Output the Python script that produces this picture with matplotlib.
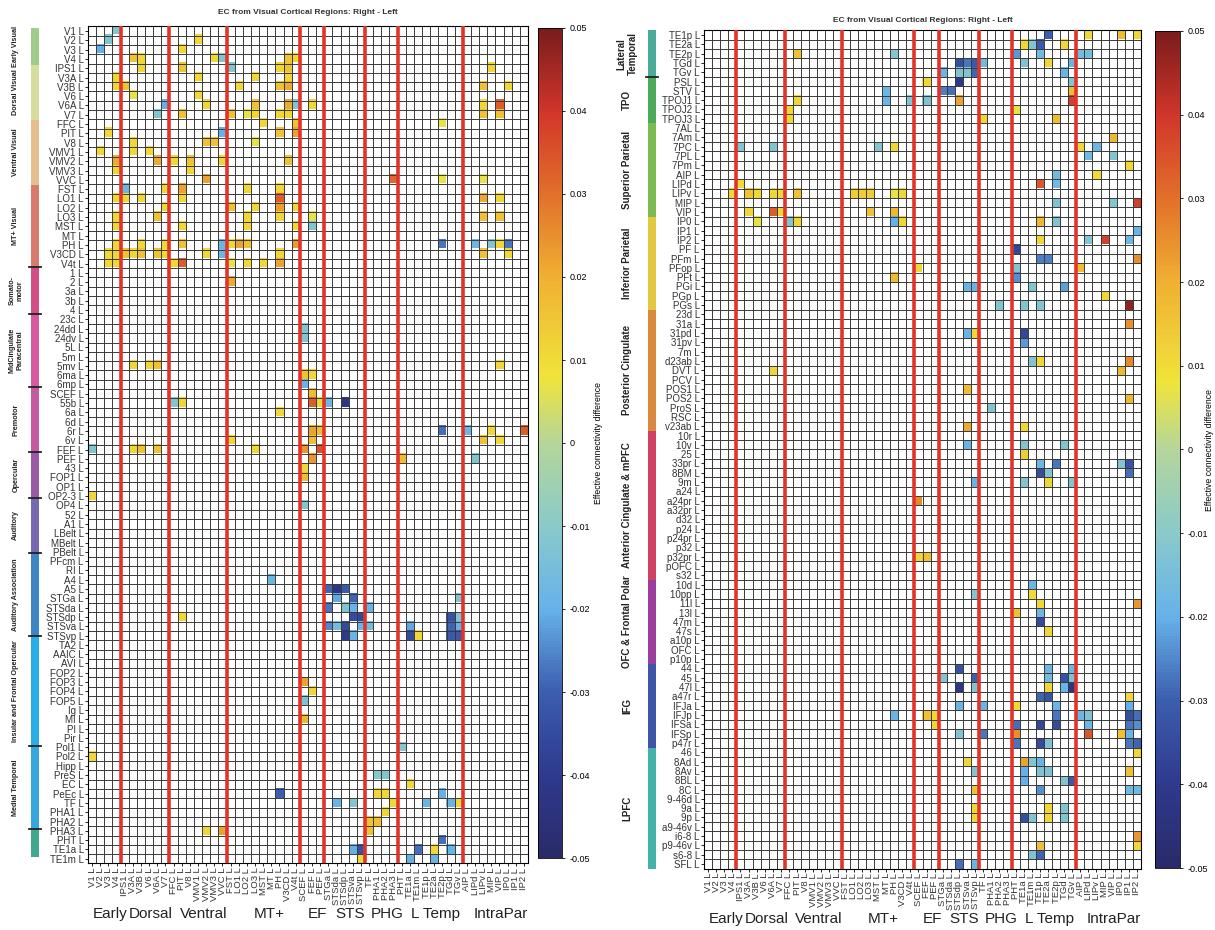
import numpy as np
import matplotlib
matplotlib.use('Agg')
import matplotlib.pyplot as plt
from matplotlib.colors import LinearSegmentedColormap
from matplotlib.patches import Rectangle

plt.rcParams['font.family'] = ['Liberation Sans', 'DejaVu Sans']

# columns: visual cortical source regions
col_names = ['V1', 'V2', 'V3', 'V4', 'IPS1', 'V3A', 'V3B', 'V6', 'V6A', 'V7',
             'FFC', 'PIT', 'V8', 'VMV1', 'VMV2', 'VMV3', 'VVC',
             'FST', 'LO1', 'LO2', 'LO3', 'MST', 'MT', 'PH', 'V3CD', 'V4t',
             'SCEF', 'FEF', 'PEF', 'STGa', 'STSda', 'STSdp', 'STSva', 'STSvp',
             'TF', 'PHA1', 'PHA2', 'PHA3',
             'PHT', 'TE1a', 'TE1m', 'TE1p', 'TE2a', 'TE2p', 'TGd', 'TGv',
             'AIP', 'LIPd', 'LIPv', 'MIP', 'VIP', 'IP0', 'IP1', 'IP2']
col_groups = ['Early', 'Dorsal', 'Ventral', 'MT+', 'EF', 'STS', 'PHG', 'L Temp', 'IntraPar']
col_group_sizes = [4, 6, 7, 9, 3, 5, 4, 8, 8]

# left panel rows
left_rows = ['V1', 'V2', 'V3', 'V4', 'IPS1', 'V3A', 'V3B', 'V6', 'V6A', 'V7',
             'FFC', 'PIT', 'V8', 'VMV1', 'VMV2', 'VMV3', 'VVC',
             'FST', 'LO1', 'LO2', 'LO3', 'MST', 'MT', 'PH', 'V3CD', 'V4t',
             '1', '2', '3a', '3b', '4',
             '23c', '24dd', '24dv', '5L', '5m', '5mv', '6ma', '6mp',
             'SCEF', '55b', '6a', '6d', '6r', '6v', 'FEF', 'PEF',
             '43', 'FOP1', 'OP1', 'OP2-3', 'OP4',
             '52', 'A1', 'LBelt', 'MBelt', 'PBelt',
             'PFcm', 'RI', 'A4', 'A5', 'STGa', 'STSda', 'STSdp', 'STSva', 'STSvp',
             'TA2', 'AAIC', 'AVI', 'FOP2', 'FOP3', 'FOP4', 'FOP5', 'Ig', 'MI', 'PI',
             'Pir', 'Pol1', 'Pol2',
             'Hipp', 'PreS', 'EC', 'PeEc', 'TF', 'PHA1', 'PHA2', 'PHA3',
             'PHT', 'TE1a', 'TE1m']
left_groups = ['Early Visual', 'Dorsal Visual', 'Ventral Visual', 'MT+ Visual',
               'Somato-\nmotor', 'MidCingulate\nParacentral', 'Premotor', 'Opercular',
               'Auditory', 'Auditory Association', 'Insular and Frontal Opercular',
               'Medial Temporal', '']
left_group_sizes = [4, 6, 7, 9, 5, 8, 7, 5, 6, 9, 12, 9, 3]
left_group_colors = ['#9fcb8c', '#d7dd9f', '#e6bf8f', '#d87a6c', '#d24e87', '#d75aa0',
                     '#c65aa0', '#9b5aa6', '#7868b0', '#3d86c6', '#2aaee6', '#38a6de',
                     '#3fa88f']

# right panel rows
right_rows = ['TE1p', 'TE2a', 'TE2p', 'TGd', 'TGv',
              'PSL', 'STV', 'TPOJ1', 'TPOJ2', 'TPOJ3',
              '7AL', '7Am', '7PC', '7PL', '7Pm', 'AIP', 'LIPd', 'LIPv', 'MIP', 'VIP',
              'IP0', 'IP1', 'IP2', 'PF', 'PFm', 'PFop', 'PFt', 'PGi', 'PGp', 'PGs',
              '23d', '31a', '31pd', '31pv', '7m', 'd23ab', 'DVT', 'PCV', 'POS1', 'POS2',
              'ProS', 'RSC', 'v23ab',
              '10r', '10v', '25', '33pr', '8BM', '9m', 'a24', 'a24pr', 'a32pr', 'd32',
              'p24', 'p24pr', 'p32', 'p32pr', 'pOFC',
              's32', '10d', '10pp', '11l', '13l', '47m', '47s', 'a10p', 'OFC', 'p10p',
              '44', '45', '47l', 'a47r', 'IFJa', 'IFJp', 'IFSa', 'IFSp', 'p47r',
              '46', '8Ad', '8Av', '8BL', '8C', '9-46d', '9a', '9p', 'a9-46v', 'i6-8',
              'p9-46v', 's6-8', 'SFL']
right_groups = ['Lateral\nTemporal', 'TPO', 'Superior Parietal', 'Inferior Parietal',
                'Posterior Cingulate', 'Anterior Cingulate & mPFC', 'OFC & Frontal Polar',
                'IFG', 'LPFC']
right_group_sizes = [5, 5, 10, 10, 13, 16, 9, 9, 13]
right_group_colors = ['#4bab98', '#4caa5a', '#7dba52', '#e1c83e', '#d98a3e', '#cf4262',
                      '#9c3f9c', '#3f56a6', '#44b2a8']

# significant cells: (target row, source column, EC difference)
left_cells = [
    ('V1', 'V4', -0.012),
    ('V2', 'V3', -0.012), ('V2', 'VMV1', 0.011),
    ('V3', 'V2', -0.020), ('V3', 'PIT', 0.011),
    ('V4', 'V3A', 0.016), ('V4', 'V3B', 0.011), ('V4', 'VMV3', 0.011), ('V4', 'VVC', -0.012),
    ('V4', 'V3CD', 0.015), ('V4', 'V4t', 0.011),
    ('IPS1', 'V3B', 0.011), ('IPS1', 'PIT', 0.015), ('IPS1', 'FST', -0.012), ('IPS1', 'PH', 0.011),
    ('IPS1', 'V3CD', 0.016), ('IPS1', 'MIP', 0.011),
    ('V3A', 'V4', 0.011), ('V3A', 'VMV1', 0.011), ('V3A', 'LO3', 0.011), ('V3A', 'V3CD', 0.011),
    ('V3B', 'V4', 0.011), ('V3B', 'IPS1', 0.016), ('V3B', 'LO1', 0.011), ('V3B', 'PH', 0.016),
    ('V3B', 'V3CD', 0.021), ('V3B', 'LIPv', 0.016), ('V3B', 'IP0', 0.011),
    ('V6', 'V3A', 0.007), ('V6', 'VMV1', 0.011),
    ('V6A', 'V7', -0.020), ('V6A', 'VMV2', 0.011), ('V6A', 'LO3', 0.016), ('V6A', 'V3CD', 0.021),
    ('V6A', 'V4t', -0.012), ('V6A', 'FEF', 0.011), ('V6A', 'LIPv', 0.011), ('V6A', 'VIP', 0.033),
    ('V7', 'V6A', -0.012), ('V7', 'PIT', 0.016), ('V7', 'FST', 0.016), ('V7', 'LO2', 0.007),
    ('V7', 'LO3', 0.011), ('V7', 'PH', 0.011), ('V7', 'V3CD', 0.011), ('V7', 'LIPv', 0.016),
    ('V7', 'VIP', 0.016),
    ('FFC', 'MST', 0.011), ('FFC', 'V4t', 0.016), ('FFC', 'TE2p', 0.007),
    ('PIT', 'V3', 0.011), ('PIT', 'VVC', -0.020), ('PIT', 'PH', 0.016), ('PIT', 'V4t', 0.022),
    ('V8', 'V3A', 0.011), ('V8', 'VMV2', 0.016), ('V8', 'VMV3', 0.016), ('V8', 'LO3', 0.007),
    ('VMV1', 'V2', 0.011), ('VMV1', 'V3A', 0.011), ('VMV1', 'V6', 0.011),
    ('VMV2', 'V4', 0.021), ('VMV2', 'V6A', 0.021), ('VMV2', 'FFC', 0.011), ('VMV2', 'V8', 0.016),
    ('VMV2', 'VVC', 0.011), ('VMV2', 'V3CD', 0.016),
    ('VMV3', 'V4', 0.011), ('VMV3', 'V8', 0.011),
    ('VVC', 'VMV2', 0.022), ('VVC', 'PHA3', 0.031), ('VVC', 'TE2p', 0.007), ('VVC', 'LIPv', 0.007),
    ('FST', 'IPS1', -0.018), ('FST', 'V7', 0.011), ('FST', 'PIT', 0.022), ('FST', 'LO2', 0.011),
    ('FST', 'PH', 0.011),
    ('LO1', 'V4', 0.011), ('LO1', 'IPS1', 0.011), ('LO1', 'V3B', 0.011), ('LO1', 'PIT', 0.011),
    ('LO1', 'PH', 0.033), ('LO1', 'LIPv', 0.021), ('LO1', 'VIP', 0.011),
    ('LO2', 'V7', 0.011), ('LO2', 'FST', 0.016), ('LO2', 'LO3', 0.011), ('LO2', 'PH', 0.023),
    ('LO2', 'V4t', 0.011),
    ('LO3', 'V4', 0.011), ('LO3', 'V6A', 0.016), ('LO3', 'LO2', 0.011), ('LO3', 'PH', 0.011),
    ('LO3', 'FEF', 0.007), ('LO3', 'LIPv', 0.016), ('LO3', 'VIP', 0.016),
    ('MST', 'V4', 0.011), ('MST', 'PIT', 0.011), ('MST', 'LO2', 0.011), ('MST', 'V4t', 0.011),
    ('MST', 'FEF', -0.012),
    ('PH', 'V4', 0.011), ('PH', 'V3B', 0.011), ('PH', 'V7', 0.011), ('PH', 'PIT', 0.016),
    ('PH', 'VVC', -0.018), ('PH', 'FST', 0.011), ('PH', 'LO1', 0.022), ('PH', 'LO2', 0.016),
    ('PH', 'V4t', 0.023), ('PH', 'TE2p', -0.027), ('PH', 'LIPd', -0.018), ('PH', 'MIP', -0.012),
    ('PH', 'VIP', 0.011), ('PH', 'IP0', -0.027),
    ('V3CD', 'V3', 0.011), ('V3CD', 'V4', 0.011), ('V3CD', 'IPS1', 0.016), ('V3CD', 'V3A', 0.011),
    ('V3CD', 'V3B', 0.016), ('V3CD', 'V6A', 0.016), ('V3CD', 'V7', 0.011), ('V3CD', 'VMV2', 0.011),
    ('V3CD', 'VVC', -0.018), ('V3CD', 'PH', 0.011), ('V3CD', 'LIPv', 0.016), ('V3CD', 'IP0', 0.011),
    ('V4t', 'V3', 0.011), ('V4t', 'V4', 0.011), ('V4t', 'FFC', 0.011), ('V4t', 'PIT', 0.033),
    ('V4t', 'FST', 0.007), ('V4t', 'LO2', 0.011), ('V4t', 'MST', 0.011), ('V4t', 'PH', 0.022),
    ('2', 'FST', 0.021),
    ('24dd', 'SCEF', -0.012), ('24dv', 'SCEF', -0.012),
    ('5mv', 'V3A', 0.011), ('5mv', 'V6', 0.011), ('5mv', 'V6A', 0.016), ('5mv', 'VIP', 0.011),
    ('6ma', 'SCEF', 0.016), ('6ma', 'FEF', 0.011),
    ('6mp', 'SCEF', -0.019),
    ('SCEF', 'FEF', 0.017),
    ('55b', 'FFC', -0.012), ('55b', 'PIT', 0.011), ('55b', 'FEF', 0.033), ('55b', 'PEF', 0.011),
    ('55b', 'STGa', -0.018), ('55b', 'STSdp', -0.042),
    ('6a', 'PH', 0.011),
    ('6r', 'FEF', 0.022), ('6r', 'PEF', 0.017), ('6r', 'TE2p', -0.028), ('6r', 'AIP', -0.018),
    ('6r', 'MIP', 0.011), ('6r', 'IP2', 0.033),
    ('6v', 'FST', 0.011), ('6v', 'FEF', 0.017), ('6v', 'LIPv', 0.016), ('6v', 'VIP', 0.011),
    ('FEF', 'V1', -0.012), ('FEF', 'V3A', 0.011), ('FEF', 'V3B', 0.016), ('FEF', 'V6A', 0.016),
    ('FEF', 'LO3', 0.011), ('FEF', 'SCEF', 0.024), ('FEF', 'PEF', 0.035),
    ('PEF', 'FEF', 0.024), ('PEF', 'PHT', 0.017), ('PEF', 'LIPd', -0.012),
    ('43', 'SCEF', 0.011), ('FOP1', 'SCEF', 0.017), ('OP2-3', 'V1', 0.011), ('OP4', 'SCEF', -0.012),
    ('A4', 'MT', -0.018),
    ('A5', 'STGa', -0.029), ('A5', 'STSda', -0.042), ('A5', 'STSdp', -0.031),
    ('STGa', 'STSda', -0.021), ('STGa', 'STSva', -0.029), ('STGa', 'TGv', -0.012),
    ('STSda', 'STGa', -0.027), ('STSda', 'STSdp', -0.012), ('STSda', 'STSva', -0.019),
    ('STSda', 'TF', -0.019),
    ('STSdp', 'PIT', 0.011), ('STSdp', 'STSva', -0.035), ('STSdp', 'STSvp', -0.036),
    ('STSdp', 'TGd', -0.033), ('STSdp', 'TGv', -0.012),
    ('STSva', 'STGa', -0.025), ('STSva', 'STSda', -0.016), ('STSva', 'STSdp', -0.035),
    ('STSva', 'STSvp', -0.019), ('STSva', 'TF', -0.016), ('STSva', 'TE1a', -0.021),
    ('STSva', 'TGd', -0.029), ('STSva', 'TGv', -0.020),
    ('STSvp', 'STSdp', -0.040), ('STSvp', 'STSva', -0.019), ('STSvp', 'TE1a', -0.035),
    ('STSvp', 'TE1m', 0.011), ('STSvp', 'TGd', -0.031), ('STSvp', 'TGv', -0.031),
    ('FOP3', 'SCEF', 0.022), ('FOP4', 'FEF', 0.011), ('FOP5', 'SCEF', -0.013),
    ('MI', 'SCEF', 0.018), ('Pol1', 'PHT', -0.011), ('Pol2', 'V1', 0.011),
    ('PreS', 'PHA1', -0.011), ('PreS', 'PHA2', -0.012),
    ('EC', 'TE1a', 0.011),
    ('PeEc', 'PH', -0.030), ('PeEc', 'PHA1', 0.011), ('PeEc', 'PHA2', 0.011), ('PeEc', 'TE2p', -0.020),
    ('TF', 'STSda', -0.019), ('TF', 'STSva', -0.012), ('TF', 'PHA3', 0.011), ('TF', 'TE1p', -0.019),
    ('TF', 'TGd', -0.019), ('TF', 'TGv', 0.011),
    ('PHA1', 'PHA2', 0.011),
    ('PHA2', 'TF', 0.016), ('PHA2', 'PHA1', 0.016),
    ('PHA3', 'VMV2', 0.011), ('PHA3', 'VVC', 0.022), ('PHA3', 'TF', 0.016),
    ('PHT', 'TE2p', -0.028),
    ('TE1a', 'STSva', -0.020), ('TE1a', 'STSvp', -0.033), ('TE1a', 'TE1m', -0.028),
    ('TE1a', 'TE2a', 0.011), ('TE1a', 'TGd', -0.019),
    ('TE1m', 'STSvp', 0.011), ('TE1m', 'TE1a', -0.020), ('TE1m', 'TE2a', -0.019),
]

right_cells = [
    ('TE1p', 'TE2a', -0.030), ('TE1p', 'LIPd', 0.011), ('TE1p', 'IP0', 0.017), ('TE1p', 'IP2', 0.011),
    ('TE2a', 'TE1a', 0.011), ('TE2a', 'TE1m', -0.012), ('TE2a', 'TE1p', -0.031), ('TE2a', 'TGd', 0.011),
    ('TE2p', 'PIT', 0.016), ('TE2p', 'PH', -0.012), ('TE2p', 'PHT', -0.023), ('TE2p', 'TE1p', -0.017),
    ('TE2p', 'AIP', -0.016), ('TE2p', 'LIPd', -0.016),
    ('TGd', 'STSdp', -0.034), ('TGd', 'STSva', -0.027), ('TGd', 'STSvp', -0.031), ('TGd', 'TF', -0.017),
    ('TGd', 'TE1a', -0.013), ('TGd', 'TE2a', 0.011), ('TGd', 'TGv', -0.019),
    ('TGv', 'STGa', -0.019), ('TGv', 'STSdp', -0.012), ('TGv', 'STSva', -0.012), ('TGv', 'STSvp', -0.029),
    ('TGv', 'TGd', -0.019),
    ('PSL', 'FEF', 0.011), ('PSL', 'STSdp', -0.041), ('PSL', 'TGv', -0.012),
    ('STV', 'MT', -0.018), ('STV', 'STGa', -0.026), ('STV', 'STSda', -0.028), ('STV', 'TGv', 0.017),
    ('TPOJ1', 'PIT', 0.011), ('TPOJ1', 'MT', -0.018), ('TPOJ1', 'V4t', -0.012), ('TPOJ1', 'FEF', -0.013),
    ('TPOJ1', 'STSdp', 0.022), ('TPOJ1', 'TGv', 0.038),
    ('TPOJ2', 'FFC', 0.011), ('TPOJ2', 'PHT', 0.007),
    ('TPOJ3', 'FFC', 0.011), ('TPOJ3', 'TF', 0.011), ('TPOJ3', 'TE2p', 0.017),
    ('7Am', 'VIP', 0.018),
    ('7PC', 'IPS1', -0.012), ('7PC', 'V6A', -0.012), ('7PC', 'MST', -0.012), ('7PC', 'PH', 0.011),
    ('7PC', 'AIP', 0.011), ('7PC', 'LIPv', -0.018),
    ('7PL', 'LIPd', -0.017), ('7PL', 'VIP', -0.012),
    ('7Pm', 'IP1', 0.011),
    ('AIP', 'TE2p', -0.017), ('AIP', 'LIPv', 0.010),
    ('LIPd', 'IPS1', 0.010), ('LIPd', 'TE1p', 0.034), ('LIPd', 'TE2p', -0.017),
    ('LIPv', 'V4', 0.011), ('LIPv', 'V3A', 0.016), ('LIPv', 'V3B', 0.011), ('LIPv', 'V6A', 0.011),
    ('LIPv', 'V7', 0.011), ('LIPv', 'PIT', 0.016), ('LIPv', 'LO1', 0.013), ('LIPv', 'LO2', 0.013),
    ('LIPv', 'LO3', 0.013), ('LIPv', 'PH', 0.007), ('LIPv', 'V3CD', 0.011),
    ('MIP', 'TE2p', -0.013), ('MIP', 'VIP', -0.012), ('MIP', 'IP2', 0.038),
    ('VIP', 'V3A', 0.011), ('VIP', 'V6A', 0.033), ('VIP', 'V7', 0.011), ('VIP', 'LO3', 0.016),
    ('VIP', 'PH', 0.018),
    ('IP0', 'V3B', 0.007), ('IP0', 'FFC', -0.012), ('IP0', 'PIT', 0.011), ('IP0', 'PH', -0.020),
    ('IP0', 'V3CD', 0.011), ('IP0', 'TE1p', 0.018), ('IP0', 'TE2p', -0.012),
    ('IP1', 'IP2', -0.019),
    ('IP2', 'TE1p', 0.011), ('IP2', 'LIPd', -0.012), ('IP2', 'MIP', 0.038), ('IP2', 'IP1', -0.018),
    ('PF', 'PHT', -0.036),
    ('PFm', 'TE1p', -0.026), ('PFm', 'TE2a', -0.026), ('PFm', 'IP2', 0.025),
    ('PFop', 'SCEF', 0.011), ('PFop', 'PHT', -0.012), ('PFop', 'AIP', 0.017),
    ('PFt', 'PH', 0.017), ('PFt', 'PHT', -0.024),
    ('PGi', 'STSva', -0.019), ('PGi', 'STSvp', -0.019), ('PGi', 'TE1m', -0.012), ('PGi', 'TGd', -0.022),
    ('PGp', 'MIP', 0.011),
    ('PGs', 'PHA2', -0.012), ('PGs', 'TE1a', -0.012), ('PGs', 'TE1p', -0.012), ('PGs', 'IP1', 0.047),
    ('31a', 'IP1', 0.025),
    ('31pd', 'STSva', -0.019), ('31pd', 'STSvp', 0.011), ('31pd', 'TE1a', -0.036),
    ('31pv', 'TE1a', -0.023),
    ('d23ab', 'TE1m', -0.012), ('d23ab', 'TE1p', 0.011), ('d23ab', 'IP1', 0.026),
    ('DVT', 'V6A', 0.011), ('DVT', 'IP0', 0.018),
    ('POS1', 'STSva', 0.017), ('POS2', 'IP1', 0.018),
    ('ProS', 'PHA1', -0.012),
    ('v23ab', 'STSva', 0.021), ('v23ab', 'TE1a', 0.011),
    ('10v', 'STSva', -0.019), ('10v', 'TE1a', -0.012), ('10v', 'TGd', -0.012),
    ('25', 'TE1a', 0.013),
    ('33pr', 'TE1p', -0.018), ('33pr', 'TE2p', -0.027), ('33pr', 'IP0', -0.012), ('33pr', 'IP1', -0.033),
    ('8BM', 'TE1p', -0.034), ('8BM', 'TE2a', -0.012), ('8BM', 'IP1', -0.028),
    ('9m', 'STSvp', -0.019), ('9m', 'TE1a', -0.012), ('9m', 'TE2a', 0.011), ('9m', 'TGv', -0.012),
    ('a24pr', 'SCEF', 0.026),
    ('p32pr', 'SCEF', 0.011), ('p32pr', 'FEF', 0.016),
    ('10d', 'TE1m', -0.018),
    ('10pp', 'STSvp', -0.012), ('10pp', 'TE1m', 0.010),
    ('11l', 'TE1p', 0.011), ('11l', 'IP2', 0.024),
    ('13l', 'PHT', 0.016), ('13l', 'TE1p', -0.018),
    ('47m', 'TE1p', -0.035),
    ('47s', 'TE2a', 0.011),
    ('44', 'STSdp', -0.033), ('44', 'TE2a', -0.018), ('44', 'TGv', -0.018),
    ('45', 'STGa', -0.012), ('45', 'STSvp', -0.030), ('45', 'TE2a', -0.016), ('45', 'TGd', -0.033),
    ('45', 'TGv', -0.013),
    ('47l', 'STSdp', -0.042), ('47l', 'STSvp', -0.012), ('47l', 'TE2a', 0.011), ('47l', 'TGd', -0.019),
    ('47l', 'TGv', -0.042),
    ('a47r', 'TE1p', -0.029), ('a47r', 'TE2a', -0.033), ('a47r', 'IP1', 0.011),
    ('IFJa', 'STSdp', -0.019), ('IFJa', 'TF', -0.019), ('IFJa', 'PHT', 0.011), ('IFJa', 'TE2p', -0.019),
    ('IFJa', 'IP1', -0.020),
    ('IFJp', 'PH', -0.019), ('IFJp', 'FEF', 0.016), ('IFJp', 'PEF', 0.011), ('IFJp', 'TE2p', -0.027),
    ('IFJp', 'AIP', -0.018), ('IFJp', 'LIPd', -0.013), ('IFJp', 'IP1', -0.034), ('IFJp', 'IP2', -0.028),
    ('IFSa', 'PEF', 0.011), ('IFSa', 'PHT', -0.028), ('IFSa', 'TE1p', -0.036), ('IFSa', 'TE2p', -0.035),
    ('IFSa', 'LIPd', -0.018), ('IFSa', 'IP1', -0.027), ('IFSa', 'IP2', -0.024),
    ('IFSp', 'STSdp', -0.013), ('IFSp', 'TF', -0.027), ('IFSp', 'PHT', 0.025), ('IFSp', 'LIPd', 0.034),
    ('IFSp', 'IP0', 0.016), ('IFSp', 'IP1', -0.019),
    ('p47r', 'PHT', -0.027), ('p47r', 'TE1p', -0.035), ('p47r', 'TE2a', -0.013), ('p47r', 'IP1', -0.027),
    ('p47r', 'IP2', -0.029),
    ('46', 'IP2', 0.011),
    ('8Ad', 'STSva', 0.011), ('8Ad', 'TE1a', 0.022), ('8Ad', 'TE1m', -0.012), ('8Ad', 'TE1p', -0.019),
    ('8Av', 'STSvp', -0.012), ('8Av', 'TE1a', -0.020), ('8Av', 'TE1p', -0.013), ('8Av', 'TE2a', -0.013),
    ('8Av', 'IP1', 0.016),
    ('8BL', 'TE1a', -0.020), ('8BL', 'TGd', -0.012), ('8BL', 'TGv', -0.031),
    ('8C', 'STSvp', 0.016), ('8C', 'TE1p', -0.024), ('8C', 'IP1', -0.017), ('8C', 'IP2', -0.017),
    ('9a', 'STSvp', 0.011), ('9a', 'TE2a', 0.011), ('9a', 'TGd', -0.012),
    ('9p', 'STSvp', 0.011), ('9p', 'TE1a', -0.034), ('9p', 'TE1m', -0.012), ('9p', 'TE2a', 0.011),
    ('9p', 'TGd', -0.012),
    ('i6-8', 'IP2', 0.024),
    ('p9-46v', 'TE1p', 0.017), ('p9-46v', 'IP2', 0.011),
    ('s6-8', 'TE1m', -0.013), ('s6-8', 'TE1p', -0.029),
    ('SFL', 'STSdp', -0.028), ('SFL', 'STSvp', -0.019),
]

# colour scale of the reference
cmap = LinearSegmentedColormap.from_list('ecdiff', [
    (0.00, '#2a2a6a'), (0.10, '#2e3a8e'), (0.20, '#3c5eae'), (0.30, '#66b2ea'),
    (0.40, '#8acaca'), (0.50, '#b4d69a'), (0.58, '#f0e43a'), (0.70, '#f0b032'),
    (0.80, '#e2702a'), (0.90, '#d2362a'), (1.00, '#7a1c1c')])
cmap.set_bad('white')

W, H = 1215, 930
fig = plt.figure(figsize=(W / 100, H / 100), dpi=100)


def box(x0, y0, x1, y1):
    return [x0 / W, 1 - y1 / H, (x1 - x0) / W, (y1 - y0) / H]


def draw_panel(mat_box, bar_box, cb_box, rows, cells, groups, sizes, colors,
               grp_font, grp_x, tick_groups, title_y, cb_lab_x):
    data = np.full((len(rows), len(col_names)), np.nan)
    for r, c, v in cells:
        data[rows.index(r), col_names.index(c)] = v

    ax = fig.add_axes(box(*mat_box))
    im = ax.imshow(np.ma.masked_invalid(data), cmap=cmap, vmin=-0.05, vmax=0.05,
                   aspect='auto', interpolation='nearest')
    ax.set_xticks(np.arange(len(col_names)) - 0.5, minor=True)
    ax.set_yticks(np.arange(len(rows)) - 0.5, minor=True)
    ax.grid(which='minor', color='#3a3a3a', lw=0.7)
    ax.tick_params(which='minor', length=0)
    ax.set_xticks(np.arange(len(col_names)))
    ax.set_xticklabels([n + ' L' for n in col_names], rotation=90, fontsize=6.8, color='#333333')
    ax.set_yticks(np.arange(len(rows)))
    ax.set_yticklabels([n + ' L' for n in rows], fontsize=7, color='#333333')
    ax.tick_params(which='major', length=2, width=0.6, pad=1)
    for s in ax.spines.values():
        s.set_linewidth(0.8)
    for b in np.cumsum(col_group_sizes)[:-1]:
        ax.axvline(b - 0.5, color='#e0342a', lw=2.6, zorder=4)
    ax.set_title('EC from Visual Cortical Regions: Right - Left', fontsize=6,
                 fontweight='bold', color='#333333', pad=title_y)

    # group names under the columns
    start = 0
    for g, n in zip(col_groups, col_group_sizes):
        ax.text(start + n / 2.0 + 0.2, -0.06, g, transform=ax.get_xaxis_transform(),
                ha='center', va='center', fontsize=11, color='#222222')
        start += n

    # coloured group bar on the left
    bax = fig.add_axes(box(*bar_box))
    bax.set_xlim(0, 1)
    bax.set_ylim(len(rows), 0)
    bax.axis('off')
    start = 0
    for g, n, col in zip(groups, sizes, colors):
        bax.add_patch(Rectangle((0, start), 1, n, color=col, lw=0))
        bax.text(grp_x, start + n / 2.0, g, rotation=90, ha='center', va='center',
                 fontsize=grp_font, fontweight='bold', color='#222222',
                 multialignment='center', clip_on=False)
        start += n
    for k in tick_groups:
        y = sum(sizes[:k])
        bax.plot([-0.3, 1.3], [y, y], color='#222222', lw=1.3, clip_on=False)

    cax = fig.add_axes(box(*cb_box))
    cb = fig.colorbar(im, cax=cax, ticks=np.arange(-0.05, 0.051, 0.01))
    cb.ax.set_yticklabels(['-0.05', '-0.04', '-0.03', '-0.02', '-0.01', '0',
                           '0.01', '0.02', '0.03', '0.04', '0.05'])
    cb.ax.tick_params(labelsize=6.5, length=2, width=0.6)
    cb.outline.set_linewidth(0.6)
    cb.set_label('Effective connectivity difference', fontsize=6.2)
    cb.ax.yaxis.set_label_coords(cb_lab_x, 0.5)


draw_panel((88, 26.4, 528, 863.4), (31, 28, 39, 857), (538, 28, 562, 858),
           left_rows, left_cells, left_groups, left_group_sizes, left_group_colors,
           5.2, -1.9, [4, 5, 6, 7, 8, 9, 10, 11, 12], 9, 2.35)
draw_panel((704, 30.3, 1141, 868.7), (648, 30.3, 656, 868.7), (1155, 31, 1180, 868),
           right_rows, right_cells, right_groups, right_group_sizes, right_group_colors,
           7.0, -2.6, [1], 6, 2.0)

fig.savefig('out.png', dpi=100)
